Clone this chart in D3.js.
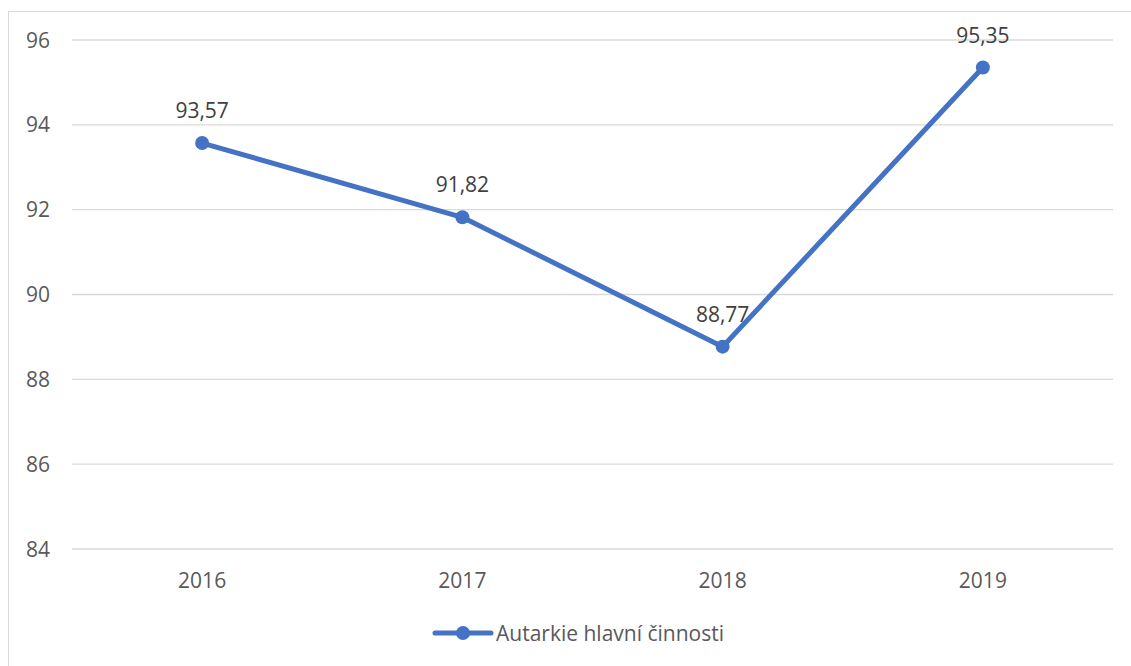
<!DOCTYPE html>
<html>
<head>
<meta charset="utf-8">
<script src="https://cdn.jsdelivr.net/npm/d3@7"></script>
<style>
  body { margin: 0; background: #fff; }
  text { font-family: "Open Sans", Lato, sans-serif; fill: #595959; }
</style>
</head>
<body>
<svg id="chart" width="1131" height="666"></svg>
<script>
// chart data
const years = ['2016', '2017', '2018', '2019'];
const values = [93.57, 91.82, 88.77, 95.35];
const yTicks = [84, 86, 88, 90, 92, 94, 96];
const seriesName = 'Autarkie hlavní činnosti';

const blue = '#4472C4';
const fontSize = 21;
const svg = d3.select('#chart');

// outer chart frame (runs off the right/bottom edge)
svg.append('rect')
    .attr('x', 8.5).attr('y', 11.5)
    .attr('width', 1140).attr('height', 680)
    .attr('fill', 'none')
    .attr('stroke', '#d9d9d9');

const plot = { left: 72, right: 1113, top: 40, bottom: 549 };

const x = d3.scaleBand()
    .domain(years)
    .range([plot.left, plot.right]);

const y = d3.scaleLinear()
    .domain([84, 96])
    .range([plot.bottom, plot.top]);

// gridlines
svg.append('g')
    .selectAll('line')
    .data(yTicks)
    .enter().append('line')
    .attr('x1', plot.left).attr('x2', plot.right)
    .attr('y1', d => y(d)).attr('y2', d => y(d))
    .attr('stroke', '#d9d9d9')
    .attr('stroke-width', 1.3);

// y labels
svg.append('g')
    .selectAll('text')
    .data(yTicks)
    .enter().append('text')
    .attr('x', 50)
    .attr('y', d => y(d))
    .attr('dy', '0.36em')
    .attr('text-anchor', 'end')
    .attr('font-size', fontSize)
    .text(d => d);

// x labels
svg.append('g')
    .selectAll('text')
    .data(years)
    .enter().append('text')
    .attr('x', d => x(d) + x.bandwidth() / 2)
    .attr('y', 580)
    .attr('dy', '0.36em')
    .attr('text-anchor', 'middle')
    .attr('font-size', fontSize)
    .text(d => d);

const cx = (d, i) => x(years[i]) + x.bandwidth() / 2;

// series line
svg.append('path')
    .datum(values)
    .attr('fill', 'none')
    .attr('stroke', blue)
    .attr('stroke-width', 5)
    .attr('stroke-linejoin', 'round')
    .attr('d', d3.line().x(cx).y(d => y(d)));

svg.append('g')
    .selectAll('circle')
    .data(values)
    .enter().append('circle')
    .attr('cx', cx)
    .attr('cy', d => y(d))
    .attr('r', 7)
    .attr('fill', blue);

// data labels
const fmt = d => d.toFixed(2).replace('.', ',');
svg.append('g')
    .selectAll('text')
    .data(values)
    .enter().append('text')
    .attr('x', cx)
    .attr('y', d => y(d) - 32.5)
    .attr('dy', '0.36em')
    .attr('text-anchor', 'middle')
    .attr('font-size', fontSize)
    .style('fill', '#404040')
    .text(fmt);

// legend
const legend = svg.append('g').attr('transform', 'translate(435,633)');
legend.append('line')
    .attr('x1', 0).attr('x2', 56)
    .attr('stroke', blue)
    .attr('stroke-width', 5)
    .attr('stroke-linecap', 'round');
legend.append('circle')
    .attr('cx', 28).attr('r', 7)
    .attr('fill', blue);
legend.append('text')
    .attr('x', 61)
    .attr('dy', '0.36em')
    .attr('font-size', fontSize)
    .text(seriesName);
</script>
</body>
</html>
